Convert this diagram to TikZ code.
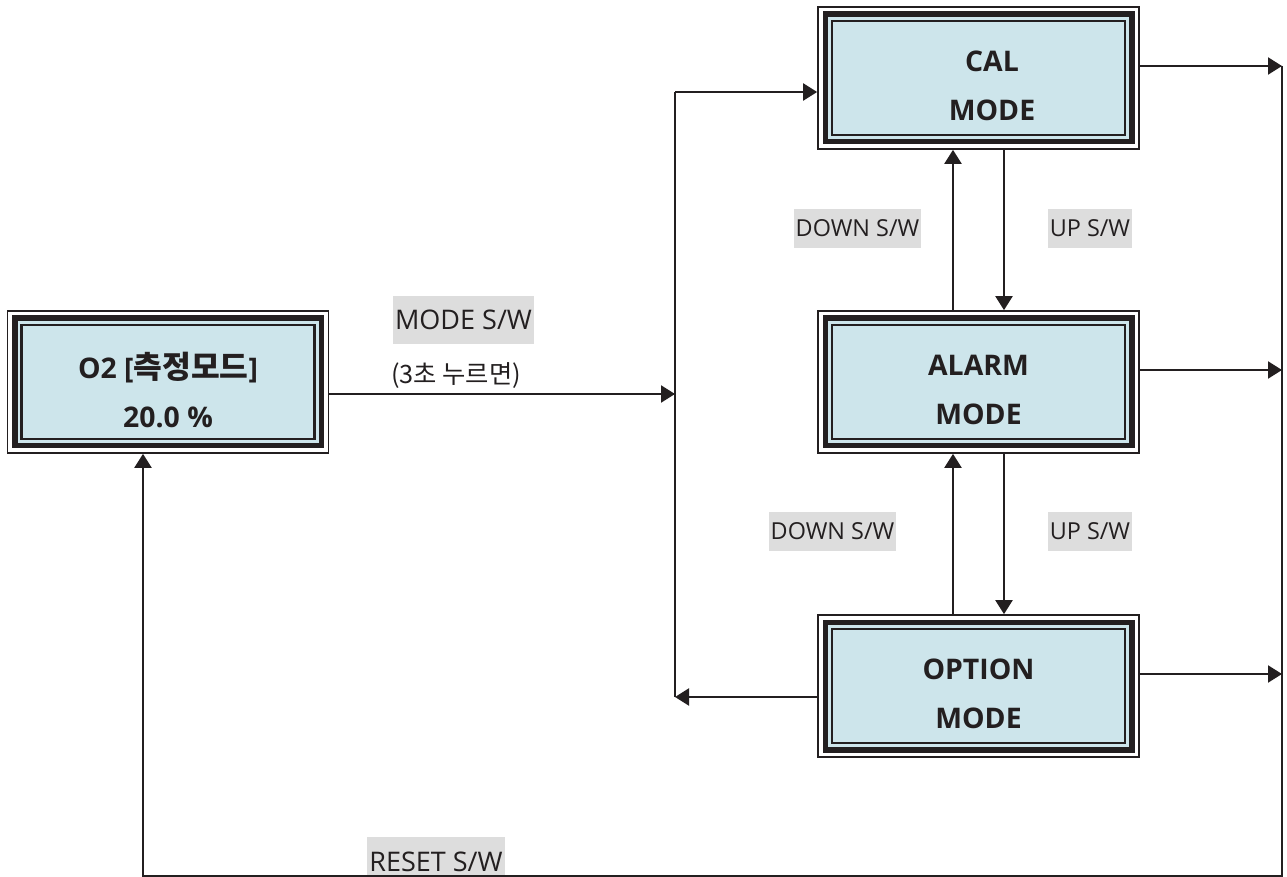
\documentclass[tikz,border=0pt]{standalone}
\usepackage{fontspec}
\setmainfont{Open Sans}
\newfontfamily\krfont{Noto Sans CJK KR}[Scale=1.1]
\usetikzlibrary{arrows.meta}
\definecolor{ink}{HTML}{231F20}
\definecolor{lcdblue}{HTML}{CDE5EB}
\definecolor{swgray}{HTML}{DDDDDD}
\begin{document}
\begin{tikzpicture}[x=0.5pt,y=-0.5pt,
	modebox/.style={draw=ink,line width=0.85pt,fill=white,minimum width=160.5pt,minimum height=71pt,inner sep=0pt,
		path picture={
			\fill[ink] ([shift={(4.5,4.5)}]path picture bounding box.north west) rectangle ([shift={(-4.5,-4.5)}]path picture bounding box.south east);
			\fill[lcdblue] ([shift={(10,10)}]path picture bounding box.north west) rectangle ([shift={(-10,-10)}]path picture bounding box.south east);
			\draw[ink,line width=1.25pt] ([shift={(14,14)}]path picture bounding box.north west) rectangle ([shift={(-14,-14)}]path picture bounding box.south east);
		}},
	boxtext/.style={font=\bfseries\fontsize{14.2}{24.5}\selectfont,align=center,text=ink,inner sep=0pt},
	swlabel/.style={fill=swgray,text=ink,font=\fontsize{11.7}{14}\selectfont,inner xsep=1pt,inner ysep=0pt,minimum height=19.5pt},
	flow/.style={draw=ink,line width=1.1pt,-{Triangle[length=7pt,width=8.5pt]}},
	wire/.style={draw=ink,line width=1.1pt}]
							\useasboundingbox (0,0) rectangle (1287,877);
							\node[modebox] (o2) at (168,382) {};
							\node[boxtext] (o2 text) at (168,390) {O2 [{\krfont 측정모드}]\\20.0 \%};
							\node[modebox] (cal) at (978.5,78) {};
							\node[boxtext] (cal text) at (992,86) {CAL\\MODE};
							\node[modebox] (alarm) at (978.5,382) {};
							\node[boxtext] (alarm text) at (978.5,390) {ALARM\\MODE};
							\node[modebox] (option) at (978.5,686) {};
							\node[boxtext] (option text) at (978.5,694) {OPTION\\MODE};
							\node[swlabel,font=\fontsize{13.5}{16}\selectfont,minimum height=24pt] (mode sw) at (463.5,320) {MODE S/W};
							\node[text=ink,font=\krfont\fontsize{11.5}{14}\selectfont,inner sep=0pt] (hold) at (456,376) {(3초 누르면)};
							\node[swlabel] (down sw a) at (857.5,228.5) {DOWN S/W};
							\node[swlabel] (up sw a) at (1090,228.5) {UP S/W};
							\node[swlabel] (down sw b) at (832.5,531.5) {DOWN S/W};
							\node[swlabel] (up sw b) at (1090,531.5) {UP S/W};
							\node[swlabel,font=\fontsize{13.5}{16}\selectfont,minimum height=25pt] (reset sw) at (436,862) {RESET S/W};
							\coordinate (bus top) at (675,92);
							\coordinate (bus bot) at (675,697);
							\coordinate (out top) at (1282,66);
							\coordinate (reset turn) at (143,876);
							\draw[wire] (bus bot) -- (bus top);
							\draw[flow] ([shift={(0,12)}]o2.east) -- ([shift={(0,12)}]o2.east -| bus top);
							\draw[flow] (bus top) -- (bus top -| cal.west);
							\draw[flow] (option.west |- bus bot) -- (bus bot);
							\draw[flow] ([shift={(-25.5,0)}]alarm.north) -- ([shift={(-25.5,0)}]cal.south);
							\draw[flow] ([shift={(25.5,0)}]cal.south) -- ([shift={(25.5,0)}]alarm.north);
							\draw[flow] ([shift={(-25.5,0)}]option.north) -- ([shift={(-25.5,0)}]alarm.south);
							\draw[flow] ([shift={(25.5,0)}]alarm.south) -- ([shift={(25.5,0)}]option.north);
							\foreach \m in {cal,alarm,option}
								\draw[flow] ([shift={(0,-12)}]\m.east) -- ([shift={(0,-12)}]\m.east -| out top);
							\draw[flow] (out top) |- (reset turn) -- (reset turn |- o2.south);
						\end{tikzpicture}
\end{document}
